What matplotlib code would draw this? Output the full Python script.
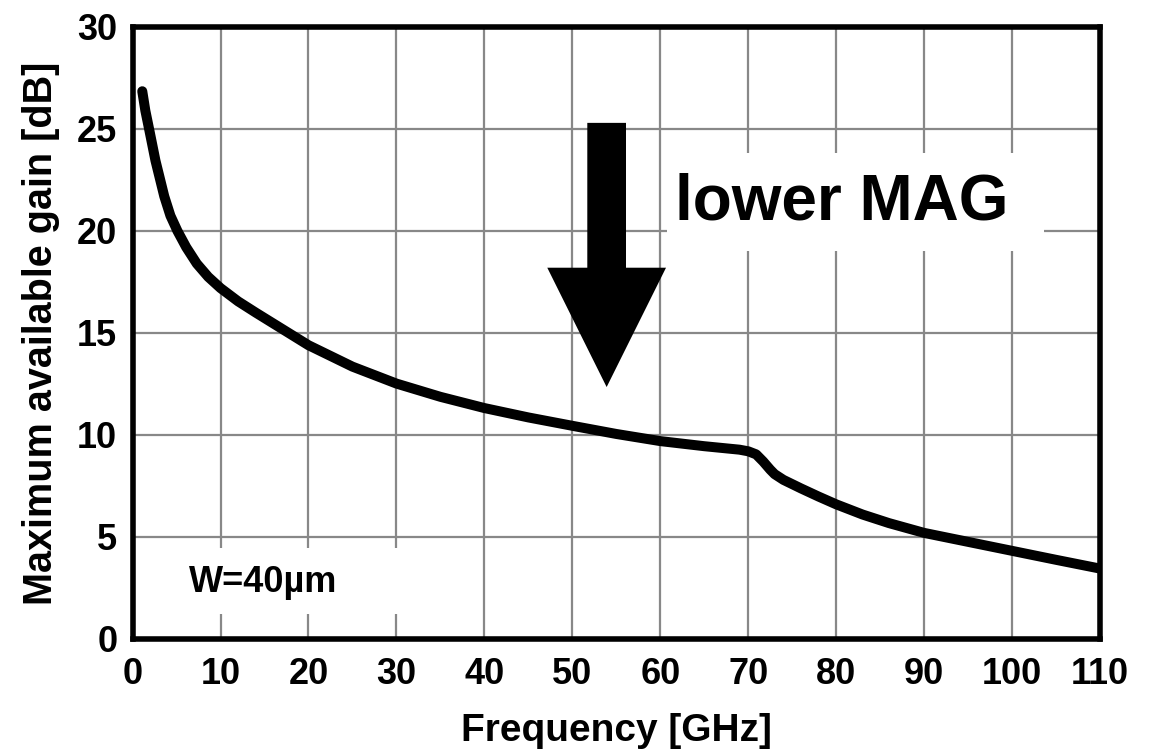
import numpy as np
import matplotlib.pyplot as plt
from matplotlib.patches import Rectangle

plt.rcParams['font.family'] = ['Liberation Sans', 'DejaVu Sans']
plt.rcParams['font.weight'] = 'bold'

# data
freq_ghz = [1.1, 1.45, 1.9, 2.6, 3.6, 4.3, 5.1, 6.1, 7.3, 8.6, 10, 12, 14,
            17, 20, 25, 30, 35, 40, 45, 50, 55, 60, 65, 69, 70, 70.9, 71.7,
            72.5, 73, 74, 76, 78, 80, 83, 86, 90, 95, 100, 105, 110]
mag_db = [26.85, 25.9, 24.95, 23.45, 21.7, 20.75, 20.0, 19.2, 18.4, 17.75,
          17.2, 16.55, 16.0, 15.2, 14.4, 13.35, 12.52, 11.87, 11.32, 10.86,
          10.45, 10.05, 9.7, 9.45, 9.28, 9.2, 9.05, 8.7, 8.3, 8.08, 7.8, 7.38,
          6.98, 6.6, 6.1, 5.68, 5.2, 4.76, 4.32, 3.88, 3.45]

x_ticks = [0, 10, 20, 30, 40, 50, 60, 70, 80, 90, 100, 110]
y_ticks = [0, 5, 10, 15, 20, 25, 30]

fig = plt.figure(figsize=(11.56, 7.52), dpi=100)
ax = fig.add_axes([0.1147, 0.1503, 0.8369, 0.8138])

ax.plot(freq_ghz, mag_db, color="black", lw=7.2, solid_capstyle="round",
        solid_joinstyle="round", zorder=3)

ax.set_xlim(0, 110)
ax.set_ylim(0, 30)
ax.set_xticks(x_ticks)
ax.set_yticks(y_ticks)
ax.set_axisbelow(True)
ax.grid(True, color="#888888", lw=1.6)
ax.tick_params(axis="both", length=0, labelsize=26)
ax.tick_params(axis="x", pad=13)
ax.tick_params(axis="y", pad=11)
for sp in ax.spines.values():
    sp.set_linewidth(4)
    sp.set_zorder(4)

ax.set_xlabel("Frequency [GHz]", fontsize=28, fontweight="bold", labelpad=15)
ax.set_ylabel("Maximum available gain [dB]", fontsize=28.5, fontweight="bold",
              labelpad=12)

# white boxes behind the annotations
ax.add_patch(Rectangle((60.8, 19.0), 42.8, 4.8, facecolor="white",
                       edgecolor="none", zorder=1))
ax.add_patch(Rectangle((0.5, 1.23), 31, 3.23, facecolor="white",
                       edgecolor="none", zorder=1))

ax.text(80.6, 21.4, "lower MAG", fontsize=46, fontweight="bold",
        ha="center", va="center", zorder=3)
ax.text(14.8, 2.75, "W=40µm", fontsize=26, fontweight="bold",
        ha="center", va="center", zorder=3)

ax.arrow(53.9, 25.3, 0, -(25.3 - 12.35), width=4.4, head_width=13.5,
         head_length=5.85, length_includes_head=True, color="black",
         lw=0, zorder=3)

fig.savefig("out.png", dpi=100)
